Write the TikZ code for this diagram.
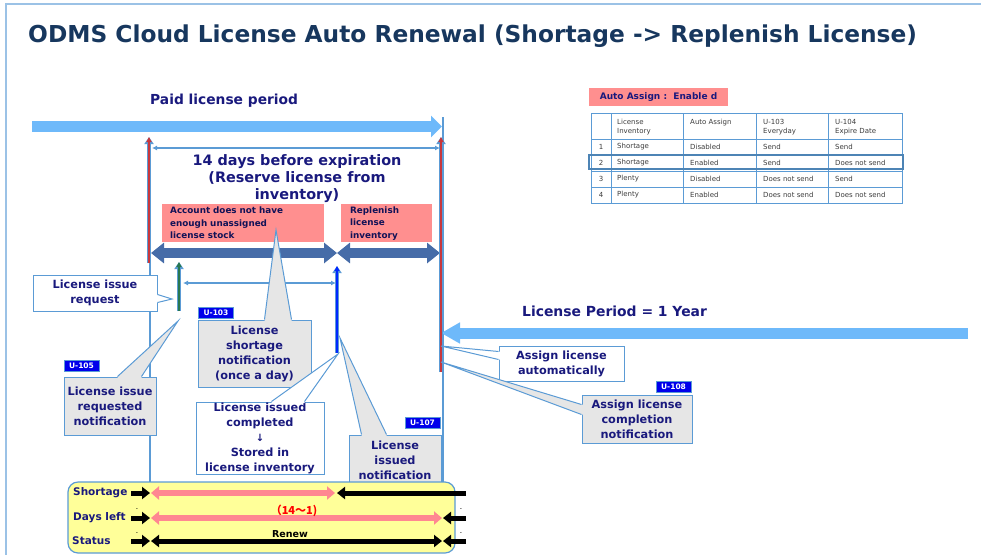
\documentclass[tikz,border=0pt]{standalone}
\usepackage{fontspec}
\setmainfont{DejaVu Sans}
\newfontfamily\cjk{Noto Sans CJK JP}
\usetikzlibrary{arrows.meta,calc}

\definecolor{titlenavy}{RGB}{23,55,94}
\definecolor{labnavy}{RGB}{25,25,125}
\definecolor{lineblue}{RGB}{91,155,213}
\definecolor{skyarrow}{RGB}{110,185,250}
\definecolor{steelarrow}{RGB}{70,108,168}
\definecolor{pinkbox}{RGB}{255,143,143}
\definecolor{pinkarrow}{RGB}{255,135,145}
\definecolor{callgray}{RGB}{230,230,230}
\definecolor{baryellow}{RGB}{255,255,153}
\definecolor{badgeblue}{RGB}{0,0,235}
\definecolor{markred}{RGB}{200,55,60}
\definecolor{markgreen}{RGB}{40,120,80}
\definecolor{markblue}{RGB}{0,40,255}
\definecolor{framegray}{RGB}{155,194,230}
\definecolor{tblgray}{RGB}{60,60,60}

% pointer of a callout: fill, base 1, tip, base 2, inward shift
\newcommand{\callptr}[5]{%
  \fill[#1] ($(#2)+(#5)$) -- (#2) -- (#3) -- (#4) -- ($(#4)+(#5)$) -- cycle;
  \draw[lineblue, line width=1pt] (#2) -- (#3) -- (#4);}

\begin{document}
\begin{tikzpicture}[x=1pt, y=-1pt,
  lab/.style={text=labnavy, inner sep=0pt, font=\fontsize{13.8}{16}\bfseries\selectfont},
  callbox/.style={draw=lineblue, line width=1pt, text=labnavy, align=center, inner sep=0pt,
    font=\fontsize{11.3}{15}\bfseries\selectfont},
  whitebox/.style={callbox, fill=white},
  graybox/.style={callbox, fill=callgray},
  pinknote/.style={fill=pinkbox, text=labnavy!70!black, align=left, anchor=north west,
    inner ysep=0pt, font=\fontsize{8.8}{12.5}\bfseries\selectfont},
  badge/.style={fill=badgeblue, draw=lineblue, text=white, minimum width=35, minimum height=11,
    inner sep=0pt, font=\fontsize{7.5}{9}\bfseries\selectfont},
  tbltext/.style={text=tblgray, anchor=west, inner sep=0pt, align=left,
    font=\fontsize{7}{9}\selectfont},
  barlab/.style={text=labnavy, anchor=west, inner sep=0pt, font=\fontsize{10.5}{12}\bfseries\selectfont},
  thinarr/.style={draw=lineblue, line width=1.5pt,
    {Latex[length=5pt,width=5pt]}-{Latex[length=5pt,width=5pt]}},
  steelarr/.style={draw=steelarrow, line width=10pt,
    {Triangle[length=13pt,width=20pt]}-{Triangle[length=13pt,width=20pt]}},
  blackarr/.style={draw=black, line width=5pt, -{Triangle[length=8pt,width=12pt]}},
  pinkarr/.style={draw=pinkarrow, line width=6pt,
    {Triangle[length=8pt,width=13pt]}-{Triangle[length=8pt,width=13pt]}},
  outline/.style={draw=lineblue, line width=4pt, -{Triangle[length=7pt,width=9pt]}},
  marker/.style={line width=2pt, -{Triangle[length=5pt,width=5pt]}}]
  \useasboundingbox (0,0) rectangle (981,555);
  % frame
  \draw[framegray, line width=1.5pt] (981,4) -- (6,4) -- (6,555);
  \node[anchor=west, inner sep=0pt, text=titlenavy, font=\fontsize{23.3}{27}\bfseries\selectfont]
    (title) at (28,36) {ODMS Cloud License Auto Renewal (Shortage -> Replenish License)};
  % timeline guides
  \draw[lineblue, line width=1.2pt] (150,140) -- (150,482);
  \draw[lineblue, line width=1.2pt] (443,117) -- (443,482);
  % paid period and new period
  \draw[skyarrow, line width=11pt, -{Triangle[length=11pt,width=21pt]}] (32,126.5) -- (442,126.5);
  \node[lab, anchor=west] (paidlab) at (150,101) {Paid license period};
  \draw[skyarrow, line width=11pt, -{Triangle[length=19pt,width=20pt]}] (968,333) -- (441,333);
  \node[lab, anchor=west, font=\fontsize{13.9}{16}\bfseries\selectfont] (periodlab) at (522,311)
    {License Period = 1 Year};
  % 14 days window
  \draw[thinarr] (152,148) -- (440,148);
  \node[lab, align=center, font=\fontsize{14.4}{17}\bfseries\selectfont] (reserve) at (297,179)
    {14 days before expiration\\(Reserve license from\\inventory)};
  \node[pinknote, minimum width=162, minimum height=38, text width=146, inner xsep=8pt]
    (nostock) at (162,204) {Account does not have\\enough unassigned\\license stock};
  \node[pinknote, minimum width=91, minimum height=38, text width=73, inner xsep=9pt]
    (replenish) at (341,204) {Replenish\\license\\inventory};
  \draw[steelarr] (151,253) -- (337,253);
  \draw[steelarr] (337,253) -- (440,253);
  \draw[thinarr] (183,283) -- (336,283);
  % event markers
  \coordinate (expstart) at (149,137);
  \coordinate (expend) at (441,137);
  \coordinate (reqtop) at (179,262);
  \coordinate (issuetop) at (337,266);
  \draw[outline] (149,263) -- (expstart);
  \draw[marker, markred] (149,263) -- (expstart);
  \draw[outline] (441,372) -- (expend);
  \draw[marker, markred] (441,372) -- (expend);
  \draw[outline] (179,311) -- (reqtop);
  \draw[marker, markgreen] (179,311) -- (reqtop);
  \draw[outline] (337,353) -- (issuetop);
  \draw[marker, markblue] (337,353) -- (issuetop);
  % callouts
  \node[whitebox, minimum width=124, minimum height=36] (isreq) at (95,293) {License issue\\request};
  \coordinate (reqtip) at (172,299);
  \coordinate (r1) at ($(isreq.north east)+(0,20)$);
  \coordinate (r2) at ($(isreq.north east)+(0,28)$);
  \callptr{white}{r1}{reqtip}{r2}{-1.5,0}
  \node[graybox, minimum width=92, minimum height=58] (isreqnote) at (110,406)
    {License issue\\requested\\notification};
  \coordinate (reqnotetip) at (178,321);
  \coordinate (n1) at ($(isreqnote.north west)+(54,0)$);
  \coordinate (n2) at ($(isreqnote.north west)+(78,0)$);
  \callptr{callgray}{n1}{reqnotetip}{n2}{0,1.5}
  \node[graybox, minimum width=113, minimum height=67] (shortnote) at (254.5,353.5)
    {License\\shortage\\notification\\(once a day)};
  \coordinate (shorttip) at (276,230);
  \coordinate (s1) at ($(shortnote.north west)+(67,0)$);
  \coordinate (s2) at ($(shortnote.north west)+(94,0)$);
  \callptr{callgray}{s1}{shorttip}{s2}{0,1.5}
  \node[whitebox, minimum width=128, minimum height=72] (stored) at (260,438)
    {License issued\\completed\\{\fontsize{10}{15}\selectfont↓}\\Stored in\\license inventory};
  \coordinate (storedtip) at (338,354);
  \coordinate (c1) at ($(stored.north west)+(76,0)$);
  \coordinate (c2) at ($(stored.north west)+(109,0)$);
  \callptr{white}{c1}{storedtip}{c2}{0,1.5}
  \node[graybox, minimum width=92, minimum height=50] (issuednote) at (395,460)
    {License\\issued\\notification};
  \coordinate (issuedtip) at (340,338);
  \coordinate (i1) at ($(issuednote.north west)+(13,0)$);
  \coordinate (i2) at ($(issuednote.north west)+(38,0)$);
  \callptr{callgray}{i1}{issuedtip}{i2}{0,1.5}
  \node[whitebox, minimum width=125, minimum height=35] (autoassign) at (561.5,363.5)
    {Assign license\\automatically};
  \coordinate (autotip) at (441,346);
  \coordinate (a1) at ($(autoassign.north west)+(0,6)$);
  \coordinate (a2) at ($(autoassign.north west)+(0,14)$);
  \callptr{white}{a1}{autotip}{a2}{1.5,0}
  \node[graybox, minimum width=110, minimum height=48] (assignnote) at (637,419)
    {Assign license\\completion\\notification};
  \coordinate (assigntip) at (441,362);
  \coordinate (g1) at ($(assignnote.north west)+(0,10)$);
  \coordinate (g2) at ($(assignnote.north west)+(0,20)$);
  \callptr{callgray}{g1}{assigntip}{g2}{1.5,0}
  % badges
  \node[badge] (u103) at (216,312.5) {U-103};
  \node[badge] (u105) at (81.5,366) {U-105};
  \node[badge] (u107) at (422.5,423) {U-107};
  \node[badge] (u108) at (673.5,386.5) {U-108};
  % settings table
  \node[fill=pinkbox, minimum width=139, minimum height=18, inner sep=0pt, text=labnavy,
    font=\fontsize{9}{11}\bfseries\selectfont] (autolab) at (658.5,97) {Auto Assign :\ \ Enable d};
  \draw[lineblue, line width=1pt] (591,113) rectangle (902,203);
  \foreach \xx in {611,683,756,828} \draw[lineblue, line width=1pt] (\xx,113) -- (\xx,203);
  \foreach \yy in {139,155,171,187} \draw[lineblue, line width=1pt] (591,\yy) -- (902,\yy);
  \node[tbltext] (h1) at (617,127.5) {License\\Inventory};
  \node[tbltext] (h2) at (690,123) {Auto Assign};
  \node[tbltext] (h3) at (763,127.5) {U-103\\Everyday};
  \node[tbltext] (h4) at (835,127.5) {U-104\\Expire Date};
  \foreach \inv/\aut/\ua/\ub [count=\i] in {Shortage/Disabled/Send/Send,
      Shortage/Enabled/Send/Does not send, Plenty/Disabled/Does not send/Send,
      Plenty/Enabled/Does not send/Does not send} {
    \node[tbltext, anchor=center] at (601,131+16*\i) {\i};
    \node[tbltext] at (617,131+16*\i) {\inv};
    \node[tbltext] at (690,131+16*\i) {\aut};
    \node[tbltext] at (763,131+16*\i) {\ua};
    \node[tbltext] at (835,131+16*\i) {\ub};
  }
  \draw[lineblue!85!black, line width=2pt] (589,155) rectangle (903,169);
  % status bar
  \draw[lineblue, fill=baryellow, line width=1.2pt, rounded corners=10pt] (68,482) rectangle (455,553);
  \node[barlab] (shortlab) at (73,493) {Shortage};
  \node[barlab] (dayslab) at (73,518) {Days left};
  \node[barlab] (statuslab) at (72,541) {Status};
  \draw[blackarr] (131,493) -- (150,493);
  \draw[pinkarr] (151,493) -- (335,493);
  \draw[blackarr] (466,493) -- (337,493);
  \draw[blackarr] (131,518) -- (150,518);
  \draw[pinkarr] (151,518) -- (442,518);
  \draw[blackarr] (466,518) -- (443,518);
  \draw[blackarr] (131,541) -- (150,541);
  \draw[draw=black, line width=5pt, {Triangle[length=8pt,width=12pt]}-{Triangle[length=8pt,width=12pt]}]
    (151,541) -- (442,541);
  \draw[blackarr] (466,541) -- (443,541);
  \foreach \mx/\my in {137/510, 137/534, 461/510, 461/534}
    \node[inner sep=0pt, font=\fontsize{6}{7}\selectfont] at (\mx,\my) {-};
  \node[inner sep=0pt, text=red, font=\fontsize{11}{12}\bfseries\cjk] (dayrange) at (294,511) {（14～1)};
  \node[inner sep=0pt, font=\fontsize{9.5}{11}\bfseries\selectfont] (renew) at (290,534) {Renew};
\end{tikzpicture}
\end{document}
